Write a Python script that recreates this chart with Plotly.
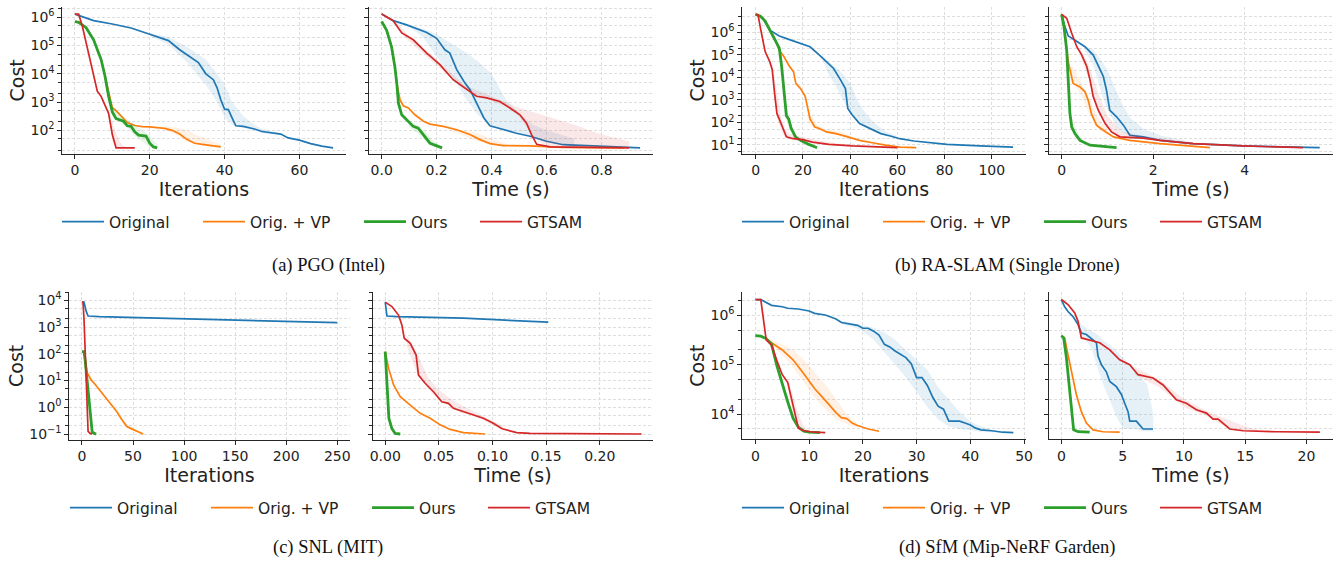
import plotly.graph_objects as go

W, H = 1340, 561

SERIES = ["Original", "Orig. + VP", "Ours", "GTSAM"]
COLORS = {"Original": "#1f77b4", "Orig. + VP": "#ff7f0e", "Ours": "#2ca02c", "GTSAM": "#d62728"}
FILLS = {"Original": "rgba(31,119,180,0.11)", "Orig. + VP": "rgba(255,127,14,0.11)",
         "Ours": "rgba(44,160,44,0.11)", "GTSAM": "rgba(214,39,40,0.11)"}
WIDTHS = {"Original": 1.7, "Orig. + VP": 1.7, "Ours": 2.8, "GTSAM": 1.7}
LEGW = {"Original": 84, "Orig. + VP": 104, "Ours": 59, "GTSAM": 50}

# ---------------- (a) PGO (Intel) ----------------
a_it_orig_x = [0, 2, 5, 10, 15, 20, 25, 28, 30, 33, 35, 37, 38, 39, 40, 41, 42, 43, 45, 48, 50, 55, 57, 60, 63, 66, 69]
a_it_orig_y = [1.3e6, 1.05e6, 7.6e5, 5.8e5, 4.2e5, 2.5e5, 1.5e5, 7.1e4, 4.7e4, 2.5e4, 1.0e4, 6.2e3, 3.2e3, 1.2e3, 560, 540, 275, 145, 138, 112, 91, 74, 54, 45, 34, 27.5, 24]
a_it_orig_bx = [20, 25, 30, 35, 38, 40, 42, 45, 48, 50, 55]
a_it_orig_hi = [2.8e5, 2.0e5, 8.9e4, 3.2e4, 1.0e4, 4.0e3, 1.0e3, 316, 158, 112, 79]
a_it_orig_lo = [2.2e5, 1.1e5, 2.5e4, 4.0e3, 1.0e3, 282, 158, 120, 100, 79, 71]
a_it_vp_x = [0, 1, 3, 5, 7, 8, 9, 10, 11, 12, 13, 14, 16, 18, 20, 22, 24, 26, 28, 30, 32, 34, 36, 39]
a_it_vp_y = [7.1e5, 6.6e5, 4.3e5, 1.6e5, 3.2e4, 8.9e3, 2.0e3, 630, 500, 355, 251, 190, 148, 135, 132, 126, 117, 100, 74, 47, 35, 32, 30, 26]
a_it_vp_bx = [24, 27, 30, 33, 36, 39]
a_it_vp_hi = [141, 126, 100, 63, 45, 32]
a_it_vp_lo = [100, 71, 40, 32, 26, 25]
a_it_ours_x = [0, 1, 3, 5, 7, 8, 9, 10, 11, 13, 14, 15, 16, 17, 19, 20, 21, 22]
a_it_ours_y = [7.1e5, 6.6e5, 4.3e5, 1.6e5, 3.2e4, 8.9e3, 1.6e3, 450, 260, 210, 145, 138, 89, 68, 63, 35, 26, 24]
a_it_ours_bx = [10, 12, 14, 16, 18, 20, 22]
a_it_ours_hi = [710, 400, 251, 158, 100, 63, 32]
a_it_ours_lo = [316, 200, 126, 63, 40, 25, 24]
a_it_gt_x = [0, 1, 2, 3, 4, 5, 6, 7, 8, 9, 10, 11, 16]
a_it_gt_y = [1.3e6, 1.3e6, 4.7e5, 1.2e5, 3.2e4, 7.9e3, 2.4e3, 1.6e3, 790, 400, 71, 24, 24]
a_it_gt_bx = [9, 10, 11, 12, 13, 14]
a_it_gt_hi = [500, 200, 79, 40, 28, 25]
a_it_gt_lo = [316, 40, 24, 24, 24, 24]

a_t_orig_x = [0, 0.042, 0.091, 0.127, 0.164, 0.2, 0.23, 0.248, 0.26, 0.273, 0.285, 0.303, 0.321, 0.333, 0.345, 0.358, 0.372, 0.394, 0.442, 0.49, 0.54, 0.6, 0.66, 0.78, 0.94]
a_t_orig_y = [1.3e6, 7.6e5, 5.4e5, 4.1e5, 2.9e5, 1.8e5, 7.1e4, 5.4e4, 2.8e4, 1.4e4, 9.1e3, 4.7e3, 2.8e3, 1.6e3, 910, 540, 275, 145, 105, 79, 62, 41, 31, 28, 24]
a_t_orig_bx = [0.1, 0.15, 0.2, 0.25, 0.3, 0.35, 0.4, 0.45, 0.5, 0.55, 0.6, 0.7]
a_t_orig_hi = [5.0e5, 4.0e5, 2.5e5, 1.3e5, 6.3e4, 2.8e4, 1.0e4, 1.3e3, 400, 158, 100, 50]
a_t_orig_lo = [4.5e5, 2.0e5, 4.0e4, 1.0e4, 1.6e3, 355, 158, 100, 79, 63, 40, 28]
a_t_vp_x = [0, 0.018, 0.036, 0.048, 0.055, 0.067, 0.079, 0.097, 0.121, 0.152, 0.176, 0.224, 0.273, 0.321, 0.358, 0.394, 0.442, 0.54, 0.66, 0.88]
a_t_vp_y = [7.1e5, 3.5e5, 9.1e4, 1.8e4, 4.7e3, 1.2e3, 740, 620, 355, 210, 166, 138, 105, 71, 47, 34, 29, 28, 25, 24]
a_t_vp_bx = [0.25, 0.3, 0.35, 0.4, 0.45]
a_t_vp_hi = [126, 100, 79, 50, 35]
a_t_vp_lo = [100, 63, 40, 32, 26]
a_t_ours_x = [0, 0.018, 0.036, 0.048, 0.055, 0.061, 0.073, 0.091, 0.115, 0.133, 0.152, 0.176, 0.22]
a_t_ours_y = [7.1e5, 3.5e5, 9.1e4, 1.8e4, 4.7e3, 910, 355, 240, 138, 120, 71, 35, 24]
a_t_ours_bx = [0.1, 0.13, 0.16, 0.19, 0.22]
a_t_ours_hi = [224, 158, 89, 40, 25]
a_t_ours_lo = [126, 79, 40, 25, 24]
a_t_gt_x = [0, 0.042, 0.073, 0.115, 0.164, 0.212, 0.26, 0.309, 0.345, 0.382, 0.43, 0.467, 0.503, 0.527, 0.545, 0.564, 0.612, 0.9]
a_t_gt_y = [1.3e6, 7.6e5, 2.8e5, 1.6e5, 5.4e4, 2.1e4, 6.2e3, 2.8e3, 1.6e3, 1.4e3, 1.05e3, 620, 355, 180, 71, 32, 26, 24]
a_t_gt_bx = [0.05, 0.1, 0.2, 0.3, 0.4, 0.45, 0.5, 0.55, 0.6, 0.7, 0.8, 0.9]
a_t_gt_hi = [7.1e5, 2.2e5, 3.2e4, 4.0e3, 1.6e3, 1.0e3, 630, 450, 316, 158, 71, 40]
a_t_gt_lo = [5.0e5, 1.4e5, 2.0e4, 2.8e3, 1.1e3, 710, 316, 63, 26, 24, 24, 24]

# ---------------- (b) RA-SLAM (Single Drone) ----------------
b_it_orig_x = [0, 3, 6, 8, 10, 14, 17, 20, 23, 27, 30, 33, 36, 38, 39, 41, 44, 47, 50, 53, 57, 61, 67, 74, 81, 95, 109]
b_it_orig_y = [6.3e6, 4.2e6, 1.26e6, 8.9e5, 6.9e5, 4.9e5, 3.8e5, 2.8e5, 2.3e5, 9.8e4, 4.9e4, 2.5e4, 7.6e3, 3.2e3, 420, 210, 89, 63, 45, 32, 25, 19, 15, 12.3, 10.7, 9.1, 8.1]
b_it_orig_bx = [28, 31, 34, 37, 40, 43, 46, 50, 55, 60]
b_it_orig_hi = [1.0e5, 5.0e4, 2.8e4, 1.4e4, 5.6e3, 1.0e3, 316, 100, 40, 25]
b_it_orig_lo = [7.1e4, 1.26e4, 4.0e3, 1.0e3, 251, 100, 63, 40, 28, 20]
b_it_vp_x = [0, 2, 4, 6, 8, 10, 12, 14, 16, 17, 19, 21, 23, 25, 27, 30, 34, 39, 44, 50, 55, 61, 68]
b_it_vp_y = [6.3e6, 5.2e6, 3.2e6, 1.26e6, 5.6e5, 1.6e5, 8.3e4, 3.5e4, 1.8e4, 5.4e3, 3.2e3, 1.4e3, 148, 63, 54, 38, 32, 23, 16, 12.3, 9.8, 8.1, 7.6]
b_it_vp_bx = [22, 26, 30, 35, 40]
b_it_vp_hi = [400, 79, 50, 40, 28]
b_it_vp_lo = [100, 50, 32, 28, 20]
b_it_ours_x = [0, 2, 4, 6, 8, 10, 11, 12, 13, 14, 15, 17, 19, 22, 26]
b_it_ours_y = [6.3e6, 5.2e6, 3.2e6, 1.26e6, 5.6e5, 2.0e5, 3.0e4, 2.0e3, 200, 141, 56, 22, 16, 11.2, 7.6]
b_it_ours_bx = [11, 12, 13, 14, 16, 18]
b_it_ours_hi = [6.3e4, 6.3e3, 630, 200, 40, 20]
b_it_ours_lo = [1.6e4, 1.0e3, 126, 63, 20, 14]
b_it_gt_x = [0, 1, 2, 4, 6, 7, 8, 9, 10, 12, 13, 16, 20, 24, 31, 41, 53, 60]
b_it_gt_y = [6.3e6, 6.0e6, 1.6e6, 1.4e5, 4.9e4, 2.2e4, 2.0e3, 245, 141, 45, 23, 19, 17.4, 13.5, 10.7, 9.1, 8.1, 7.6]
b_it_gt_bx = [7, 8, 9, 10, 11, 12, 14, 20, 30, 40]
b_it_gt_hi = [4.0e4, 1.0e4, 1.6e3, 400, 126, 63, 32, 22, 14, 10]
b_it_gt_lo = [1.6e4, 1.0e3, 158, 79, 40, 25, 18, 14, 10, 8.5]

b_t_orig_x = [0, 0.07, 0.145, 0.33, 0.51, 0.69, 0.8, 0.91, 0.98, 1.05, 1.2, 1.35, 1.49, 1.78, 2.15, 2.87, 3.96, 5.05, 5.64]
b_t_orig_y = [6.3e6, 1.8e6, 6.9e5, 3.8e5, 2.3e5, 9.8e4, 3.5e4, 1.1e4, 2.7e3, 350, 178, 76, 27, 23, 16, 11.5, 9.1, 8.1, 7.6]
b_t_orig_bx = [0.5, 0.7, 0.9, 1.0, 1.1, 1.2, 1.3, 1.5, 1.8, 2.2, 2.8]
b_t_orig_hi = [2.5e5, 1.6e5, 4.5e4, 2.2e4, 7.1e3, 2.5e3, 790, 158, 50, 25, 14]
b_t_orig_lo = [1.6e5, 3.2e4, 1.26e3, 400, 158, 63, 40, 25, 20, 14, 10]
b_t_vp_x = [0, 0.07, 0.145, 0.25, 0.4, 0.51, 0.58, 0.65, 0.76, 0.91, 1.13, 1.49, 2.15, 3.24]
b_t_vp_y = [6.3e6, 9.1e5, 4.9e4, 5.4e3, 3.8e3, 2.3e3, 980, 245, 76, 45, 23, 16, 11.5, 7.6]
b_t_vp_bx = [0.2, 0.4, 0.6, 0.8, 1.0]
b_t_vp_hi = [4.0e4, 7.9e3, 1.26e3, 158, 50]
b_t_vp_lo = [7.9e3, 2.0e3, 251, 50, 28]
b_t_ours_x = [0, 0.05, 0.11, 0.145, 0.18, 0.22, 0.29, 0.4, 0.62, 1.2]
b_t_ours_y = [6.3e6, 1.8e6, 1.6e5, 5.4e3, 245, 63, 32, 16, 9.8, 7.6]
b_t_ours_bx = [0.16, 0.2, 0.3, 0.4, 0.5]
b_t_ours_hi = [3.0e3, 251, 63, 25, 14]
b_t_ours_lo = [400, 79, 25, 14, 11.2]
b_t_gt_x = [0, 0.11, 0.22, 0.33, 0.44, 0.55, 0.62, 0.69, 0.8, 0.95, 1.09, 1.27, 1.78, 2.15, 2.87, 3.96, 5.27]
b_t_gt_y = [6.3e6, 4.2e6, 9.1e5, 2.3e5, 9.8e4, 3.0e4, 7.6e3, 1.4e3, 350, 89, 38, 23, 20, 16, 11.5, 9.1, 7.6]
b_t_gt_bx = [0.4, 0.6, 0.8, 1.0, 1.3, 1.8, 2.5, 3.2]
b_t_gt_hi = [2.0e5, 3.2e4, 2.0e3, 200, 40, 25, 16, 11.2]
b_t_gt_lo = [1.0e5, 7.9e3, 251, 50, 20, 18, 12.6, 10]

# ---------------- (c) SNL (MIT) ----------------
c_it_orig_x = [0, 2, 4, 6, 17, 83, 148, 250]
c_it_orig_y = [8500, 8500, 4000, 2570, 2450, 2140, 1820, 1450]
c_it_vp_x = [0, 2, 5, 9, 13, 17, 24, 29, 34, 39, 44, 47, 50, 55, 60]
c_it_vp_y = [120, 120, 20, 10.5, 7.1, 4.5, 2.1, 1.26, 0.69, 0.35, 0.19, 0.166, 0.15, 0.126, 0.1]
c_it_vp_bx = [35, 40, 45, 50]
c_it_vp_hi = [0.63, 0.32, 0.22, 0.18]
c_it_vp_lo = [0.5, 0.25, 0.166, 0.14]
c_it_ours_x = [0, 2, 3, 4, 5, 6, 7, 8, 9, 10, 12, 14]
c_it_ours_y = [120, 120, 63, 25, 10, 3.2, 1.0, 0.4, 0.18, 0.12, 0.105, 0.1]
c_it_gt_x = [0, 1, 2, 3, 4, 5, 6, 8, 10]
c_it_gt_y = [8500, 8500, 2000, 250, 20, 1.6, 0.126, 0.105, 0.1]

c_t_orig_x = [0, 0.0016, 0.011, 0.073, 0.152]
c_t_orig_y = [8500, 2570, 2450, 2140, 1510]
c_t_vp_x = [0, 0.0031, 0.0078, 0.014, 0.0233, 0.0326, 0.0419, 0.0512, 0.0605, 0.0729, 0.093]
c_t_vp_y = [120, 29, 6.8, 2.5, 1.2, 0.59, 0.39, 0.22, 0.148, 0.112, 0.1]
c_t_ours_x = [0, 0.0009, 0.0022, 0.0034, 0.0062, 0.0093, 0.014]
c_t_ours_y = [120, 29, 3.8, 0.39, 0.16, 0.105, 0.1]
c_t_gt_x = [0, 0.0062, 0.0124, 0.0155, 0.0177, 0.0233, 0.0288, 0.031, 0.0372, 0.045, 0.0527, 0.0589, 0.0636, 0.079, 0.0915, 0.1008, 0.1085, 0.1225, 0.135, 0.239]
c_t_gt_y = [8500, 5800, 2800, 1200, 380, 245, 89, 16, 7.9, 3.8, 1.6, 1.4, 0.91, 0.59, 0.39, 0.25, 0.16, 0.112, 0.105, 0.1]
c_t_gt_bx = [0.02, 0.03, 0.04, 0.05, 0.06, 0.07, 0.08, 0.09, 0.1, 0.11]
c_t_gt_hi = [500, 100, 12.6, 4.5, 2.2, 1.26, 0.79, 0.5, 0.32, 0.2]
c_t_gt_lo = [200, 16, 5, 1.8, 1.12, 0.63, 0.5, 0.35, 0.22, 0.14]

# ---------------- (d) SfM (Mip-NeRF Garden) ----------------
d_it_orig_x = [0, 1, 3, 5, 6, 8, 10, 11, 13, 15, 16, 18, 19, 20, 21, 22, 23, 24, 25, 26, 27, 28, 29, 30, 31, 32, 33, 34, 35, 36, 37, 38, 39, 40, 41, 42, 44, 46, 48]
d_it_orig_y = [2.1e6, 2.1e6, 1.6e6, 1.5e6, 1.4e6, 1.35e6, 1.23e6, 1.1e6, 1.02e6, 8.5e5, 7.2e5, 6.6e5, 6.3e5, 5.5e5, 5.5e5, 4.8e5, 4.0e5, 2.6e5, 2.3e5, 1.9e5, 1.6e5, 1.4e5, 1.05e5, 5.5e4, 5.5e4, 3.8e4, 2.2e4, 1.45e4, 1.26e4, 7.2e3, 7.2e3, 7.2e3, 6.6e3, 6.0e3, 5.2e3, 4.8e3, 4.6e3, 4.3e3, 4.2e3]
d_it_orig_bx = [16, 18, 20, 22, 24, 26, 28, 30, 32, 34, 36, 38, 40, 42, 44, 46]
d_it_orig_hi = [7.9e5, 7.1e5, 6.3e5, 5.6e5, 4.5e5, 3.2e5, 2.0e5, 1.26e5, 7.9e4, 3.5e4, 2.0e4, 1.1e4, 7.1e3, 5.6e3, 4.8e3, 4.4e3]
d_it_orig_lo = [6.6e5, 6.0e5, 4.8e5, 3.2e5, 1.8e5, 1.0e5, 5.6e4, 2.8e4, 1.4e4, 7.9e3, 5.6e3, 5.0e3, 4.7e3, 4.4e3, 4.3e3, 4.2e3]
d_it_vp_x = [0, 1, 2, 3, 5, 7, 9, 11, 13, 15, 16, 17, 18, 19, 21, 23]
d_it_vp_y = [3.9e5, 3.8e5, 3.4e5, 2.8e5, 2.0e5, 1.26e5, 6.6e4, 3.3e4, 1.9e4, 1.07e4, 8.5e3, 8.1e3, 6.6e3, 5.9e3, 5.0e3, 4.5e3]
d_it_vp_bx = [3, 5, 7, 9, 11, 13, 15, 17, 19]
d_it_vp_hi = [3.2e5, 2.6e5, 2.0e5, 1.26e5, 7.1e4, 4.0e4, 2.0e4, 1.0e4, 6.3e3]
d_it_vp_lo = [2.5e5, 1.6e5, 8.9e4, 4.5e4, 2.2e4, 1.26e4, 7.9e3, 6.3e3, 5.2e3]
d_it_ours_x = [0, 1, 2, 3, 4, 5, 6, 7, 8, 9, 10, 12]
d_it_ours_y = [3.9e5, 3.8e5, 3.4e5, 2.6e5, 9.5e4, 4.0e4, 1.8e4, 8.3e3, 5.4e3, 4.5e3, 4.3e3, 4.2e3]
d_it_ours_bx = [4, 5, 6, 7, 8, 9]
d_it_ours_hi = [1.26e5, 5.6e4, 2.5e4, 1.0e4, 6.0e3, 4.7e3]
d_it_ours_lo = [7.9e4, 3.2e4, 1.4e4, 7.1e3, 5.0e3, 4.4e3]
d_it_gt_x = [0, 1, 2, 3, 4, 5, 6, 7, 8, 9, 11, 13]
d_it_gt_y = [2.1e6, 2.1e6, 3.2e5, 2.5e5, 1.2e5, 6.3e4, 4.4e4, 1.6e4, 5.2e3, 4.6e3, 4.3e3, 4.2e3]
d_it_gt_bx = [6, 7, 8, 9, 10]
d_it_gt_hi = [5.6e4, 2.5e4, 1.0e4, 5.6e3, 4.6e3]
d_it_gt_lo = [3.5e4, 1.0e4, 5.0e3, 4.4e3, 4.3e3]

d_t_orig_x = [0, 0.27, 0.54, 0.95, 1.36, 1.63, 2.04, 2.59, 2.86, 2.99, 3.27, 3.67, 3.95, 4.49, 4.9, 5.17, 5.44, 5.58, 6.12, 6.67, 7.48]
d_t_orig_y = [2.1e6, 1.5e6, 1.2e6, 9.5e5, 6.5e5, 4.4e5, 4.1e5, 3.2e5, 2.8e5, 1.5e5, 1.0e5, 7.2e4, 4.6e4, 3.6e4, 2.5e4, 1.66e4, 1.12e4, 7.2e3, 7.2e3, 5.0e3, 5.0e3]
d_t_orig_bx = [1.5, 2.0, 2.5, 3.0, 3.5, 4.0, 4.5, 5.0, 5.5, 6.0, 6.5, 7.0, 7.5]
d_t_orig_hi = [7.1e5, 5.6e5, 4.8e5, 4.0e5, 3.0e5, 2.5e5, 1.9e5, 1.4e5, 1.1e5, 7.9e4, 5.6e4, 4.0e4, 1.0e4]
d_t_orig_lo = [4.5e5, 3.2e5, 2.0e5, 7.9e4, 3.5e4, 1.8e4, 8.9e3, 5.2e3, 5.0e3, 5.0e3, 4.6e3, 4.5e3, 4.5e3]
d_t_vp_x = [0, 0.27, 0.54, 0.82, 1.22, 1.63, 2.04, 2.59, 3.4, 4.76]
d_t_vp_y = [3.9e5, 3.5e5, 1.6e5, 7.2e4, 2.5e4, 1.12e4, 6.6e3, 4.8e3, 4.4e3, 4.3e3]
d_t_ours_x = [0, 0.19, 0.41, 0.63, 0.82, 1.0, 1.36, 2.31]
d_t_ours_y = [3.9e5, 3.5e5, 1.4e5, 3.9e4, 1.12e4, 4.8e3, 4.4e3, 4.3e3]
d_t_gt_x = [0, 0.54, 1.09, 1.36, 1.63, 2.31, 3.13, 3.95, 4.76, 5.58, 6.26, 7.48, 8.3, 9.39, 10.2, 11.02, 11.84, 12.38, 12.79, 13.74, 14.83, 17.55, 21.1]
d_t_gt_y = [2.1e6, 1.66e6, 1.12e6, 7.6e5, 3.5e5, 3.2e5, 2.8e5, 2.0e5, 1.26e5, 1.0e5, 6.3e4, 5.4e4, 3.9e4, 1.95e4, 1.66e4, 1.23e4, 1.05e4, 7.9e3, 7.9e3, 5.0e3, 4.6e3, 4.4e3, 4.3e3]
d_t_gt_bx = [6, 8, 10, 12, 13, 14, 15, 16]
d_t_gt_hi = [9.0e4, 5.0e4, 2.0e4, 1.12e4, 8.9e3, 7.1e3, 5.6e3, 4.8e3]
d_t_gt_lo = [6.3e4, 3.5e4, 1.4e4, 8.9e3, 6.3e3, 4.8e3, 4.5e3, 4.4e3]

CAPTIONS = ["(a) PGO (Intel)", "(b) RA-SLAM (Single Drone)", "(c) SNL (MIT)", "(d) SfM (Mip-NeRF Garden)"]
X_TITLES = ["Iterations", "Time (s)"]
Y_TITLE = "Cost"

DATA = {
    "a": {
        "it": {"Original": (a_it_orig_x, a_it_orig_y, (a_it_orig_bx, a_it_orig_lo, a_it_orig_hi)),
               "Orig. + VP": (a_it_vp_x, a_it_vp_y, (a_it_vp_bx, a_it_vp_lo, a_it_vp_hi)),
               "Ours": (a_it_ours_x, a_it_ours_y, (a_it_ours_bx, a_it_ours_lo, a_it_ours_hi)),
               "GTSAM": (a_it_gt_x, a_it_gt_y, (a_it_gt_bx, a_it_gt_lo, a_it_gt_hi))},
        "t": {"Original": (a_t_orig_x, a_t_orig_y, (a_t_orig_bx, a_t_orig_lo, a_t_orig_hi)),
              "Orig. + VP": (a_t_vp_x, a_t_vp_y, (a_t_vp_bx, a_t_vp_lo, a_t_vp_hi)),
              "Ours": (a_t_ours_x, a_t_ours_y, (a_t_ours_bx, a_t_ours_lo, a_t_ours_hi)),
              "GTSAM": (a_t_gt_x, a_t_gt_y, (a_t_gt_bx, a_t_gt_lo, a_t_gt_hi))},
    },
    "b": {
        "it": {"Original": (b_it_orig_x, b_it_orig_y, (b_it_orig_bx, b_it_orig_lo, b_it_orig_hi)),
               "Orig. + VP": (b_it_vp_x, b_it_vp_y, (b_it_vp_bx, b_it_vp_lo, b_it_vp_hi)),
               "Ours": (b_it_ours_x, b_it_ours_y, (b_it_ours_bx, b_it_ours_lo, b_it_ours_hi)),
               "GTSAM": (b_it_gt_x, b_it_gt_y, (b_it_gt_bx, b_it_gt_lo, b_it_gt_hi))},
        "t": {"Original": (b_t_orig_x, b_t_orig_y, (b_t_orig_bx, b_t_orig_lo, b_t_orig_hi)),
              "Orig. + VP": (b_t_vp_x, b_t_vp_y, (b_t_vp_bx, b_t_vp_lo, b_t_vp_hi)),
              "Ours": (b_t_ours_x, b_t_ours_y, (b_t_ours_bx, b_t_ours_lo, b_t_ours_hi)),
              "GTSAM": (b_t_gt_x, b_t_gt_y, (b_t_gt_bx, b_t_gt_lo, b_t_gt_hi))},
    },
    "c": {
        "it": {"Original": (c_it_orig_x, c_it_orig_y, None),
               "Orig. + VP": (c_it_vp_x, c_it_vp_y, (c_it_vp_bx, c_it_vp_lo, c_it_vp_hi)),
               "Ours": (c_it_ours_x, c_it_ours_y, None),
               "GTSAM": (c_it_gt_x, c_it_gt_y, None)},
        "t": {"Original": (c_t_orig_x, c_t_orig_y, None),
              "Orig. + VP": (c_t_vp_x, c_t_vp_y, None),
              "Ours": (c_t_ours_x, c_t_ours_y, None),
              "GTSAM": (c_t_gt_x, c_t_gt_y, (c_t_gt_bx, c_t_gt_lo, c_t_gt_hi))},
    },
    "d": {
        "it": {"Original": (d_it_orig_x, d_it_orig_y, (d_it_orig_bx, d_it_orig_lo, d_it_orig_hi)),
               "Orig. + VP": (d_it_vp_x, d_it_vp_y, (d_it_vp_bx, d_it_vp_lo, d_it_vp_hi)),
               "Ours": (d_it_ours_x, d_it_ours_y, (d_it_ours_bx, d_it_ours_lo, d_it_ours_hi)),
               "GTSAM": (d_it_gt_x, d_it_gt_y, (d_it_gt_bx, d_it_gt_lo, d_it_gt_hi))},
        "t": {"Original": (d_t_orig_x, d_t_orig_y, (d_t_orig_bx, d_t_orig_lo, d_t_orig_hi)),
              "Orig. + VP": (d_t_vp_x, d_t_vp_y, None),
              "Ours": (d_t_ours_x, d_t_ours_y, None),
              "GTSAM": (d_t_gt_x, d_t_gt_y, (d_t_gt_bx, d_t_gt_lo, d_t_gt_hi))},
    },
}

# ---------------- layout (pixel geometry) ----------------
LAYOUT = [
    dict(key="a", xl=(62, 346), xr=(369, 653), yp=(6.7, 154), itr=[-3.45, 72.45], tr=[-0.046, 0.987],
         yr=[1.163, 6.375], itd=20, td=0.2, tf=".1f", dec=(2, 6), leg=(57, 222), cap=(328, 265)),
    dict(key="b", xl=(742, 1026), xr=(1049, 1333), yp=(6.7, 154), itr=[-5.8, 114.5], tr=[-0.277, 5.93],
         yr=[0.6, 7.14], itd=20, td=2, tf="d", dec=(1, 6), leg=(737, 222), cap=(1007, 265)),
    dict(key="c", xl=(69, 350), xr=(373, 653), yp=(291.7, 440), itr=[-12.7, 262.5], tr=[-0.0114, 0.2496],
         yr=[-1.224, 4.32], itd=50, td=0.05, tf=".2f", dec=(-1, 4), leg=(65, 508), cap=(328, 547)),
    dict(key="d", xl=(742, 1026), xr=(1049, 1333), yp=(292, 439.3), itr=[-2.5, 50.36], tr=[-1.01, 22.17],
         yr=[3.49, 6.475], itd=10, td=5, tf="d", dec=(4, 6), leg=(737, 508), cap=(1007, 547)),
]

AX = "#262626"
GRID = "#dedede"
FONT = "DejaVu Sans"


def sup(n):
    s = str(abs(n))
    return "10<sup>" + ("\u2212" if n < 0 else "") + s + "</sup>"


fig = go.Figure()
layout_upd = {}
annotations = []

for pi, P in enumerate(LAYOUT):
    key = P["key"]
    legname = "legend" if pi == 0 else "legend%d" % (pi + 1)
    for si, sub in enumerate(["it", "t"]):
        n = pi * 2 + si + 1
        xa = "x" if n == 1 else "x%d" % n
        ya = "y" if n == 1 else "y%d" % n
        for name in SERIES:
            xs, ys, band = DATA[key][sub][name]
            if band is not None:
                bx, lo, hi = band
                fig.add_trace(go.Scatter(x=list(bx) + list(bx)[::-1], y=list(hi) + list(lo)[::-1],
                                         fill="toself", fillcolor=FILLS[name], line=dict(width=0),
                                         mode="lines", showlegend=False, hoverinfo="skip",
                                         xaxis=xa, yaxis=ya))
            fig.add_trace(go.Scatter(x=xs, y=ys, mode="lines", name=name,
                                     line=dict(color=COLORS[name], width=WIDTHS[name]),
                                     showlegend=(si == 0), legend=legname, legendwidth=LEGW[name],
                                     xaxis=xa, yaxis=ya))
        xpx = P["xl"] if si == 0 else P["xr"]
        y0, y1 = P["yp"]
        axkey = "xaxis" if n == 1 else "xaxis%d" % n
        aykey = "yaxis" if n == 1 else "yaxis%d" % n
        layout_upd[axkey] = dict(
            domain=[xpx[0] / W, xpx[1] / W], anchor=ya, range=P["itr"] if si == 0 else P["tr"],
            automargin=False,
            tick0=0, dtick=P["itd"] if si == 0 else P["td"],
            tickformat="d" if si == 0 else P["tf"],
            ticks="outside", ticklen=3.5, tickwidth=1, tickcolor=AX,
            showline=True, linecolor=AX, linewidth=1.3, zeroline=False,
            showgrid=True, gridcolor=GRID, griddash="3px,2px", gridwidth=0.8,
            tickfont=dict(family=FONT, size=14, color="#222"),
            title=dict(text=X_TITLES[si], font=dict(family=FONT, size=19, color="#222"), standoff=0),
        )
        d0, d1 = P["dec"]
        majors = [10.0 ** e for e in range(d0, d1 + 1)]
        labels = [sup(e) for e in range(d0, d1 + 1)]
        minors = []
        for e in range(d0 - 1, d1 + 2):
            for m in (2, 5):
                minors.append(m * 10.0 ** e)
        ydict = dict(
            domain=[1 - y1 / H, 1 - y0 / H], anchor=xa, type="log", range=P["yr"],
            automargin=False,
            tickmode="array", tickvals=majors, ticktext=labels,
            ticks="outside", ticklen=3.5, tickwidth=1, tickcolor=AX,
            showline=True, linecolor=AX, linewidth=1.3, zeroline=False,
            showgrid=True, gridcolor=GRID, griddash="3px,2px", gridwidth=0.8,
            minor=dict(tickmode="array", tickvals=minors, ticks="outside", ticklen=2.5, tickcolor=AX,
                       showgrid=True, gridcolor=GRID, griddash="3px,2px", gridwidth=0.8),
            tickfont=dict(family=FONT, size=14, color="#222"),
            showticklabels=(si == 0),
        )
        if si == 0:
            ydict["title"] = dict(text=Y_TITLE, font=dict(family=FONT, size=19, color="#222"), standoff=0)
        layout_upd[aykey] = ydict

    lx, ly = P["leg"]
    layout_upd[legname] = dict(orientation="h", x=lx / W, xanchor="left", y=1 - ly / H, yanchor="middle",
                               font=dict(family=FONT, size=15.5, color="#222"), bgcolor="rgba(0,0,0,0)",
                               itemwidth=42, traceorder="normal")
    cx, cy = P["cap"]
    annotations.append(dict(text=CAPTIONS[pi], x=cx / W, y=1 - cy / H, xref="paper", yref="paper",
                            xanchor="center", yanchor="middle", showarrow=False,
                            font=dict(family="Liberation Serif", size=18.5, color="#111")))

fig.update_layout(width=W, height=H, margin=dict(l=0, r=0, t=0, b=0, autoexpand=False),
                  paper_bgcolor="white", plot_bgcolor="white", annotations=annotations,
                  **layout_upd)

fig.write_html("out.html", config={"displayModeBar": False},
               post_script="document.body.style.margin='0';document.body.style.overflow='hidden';")
